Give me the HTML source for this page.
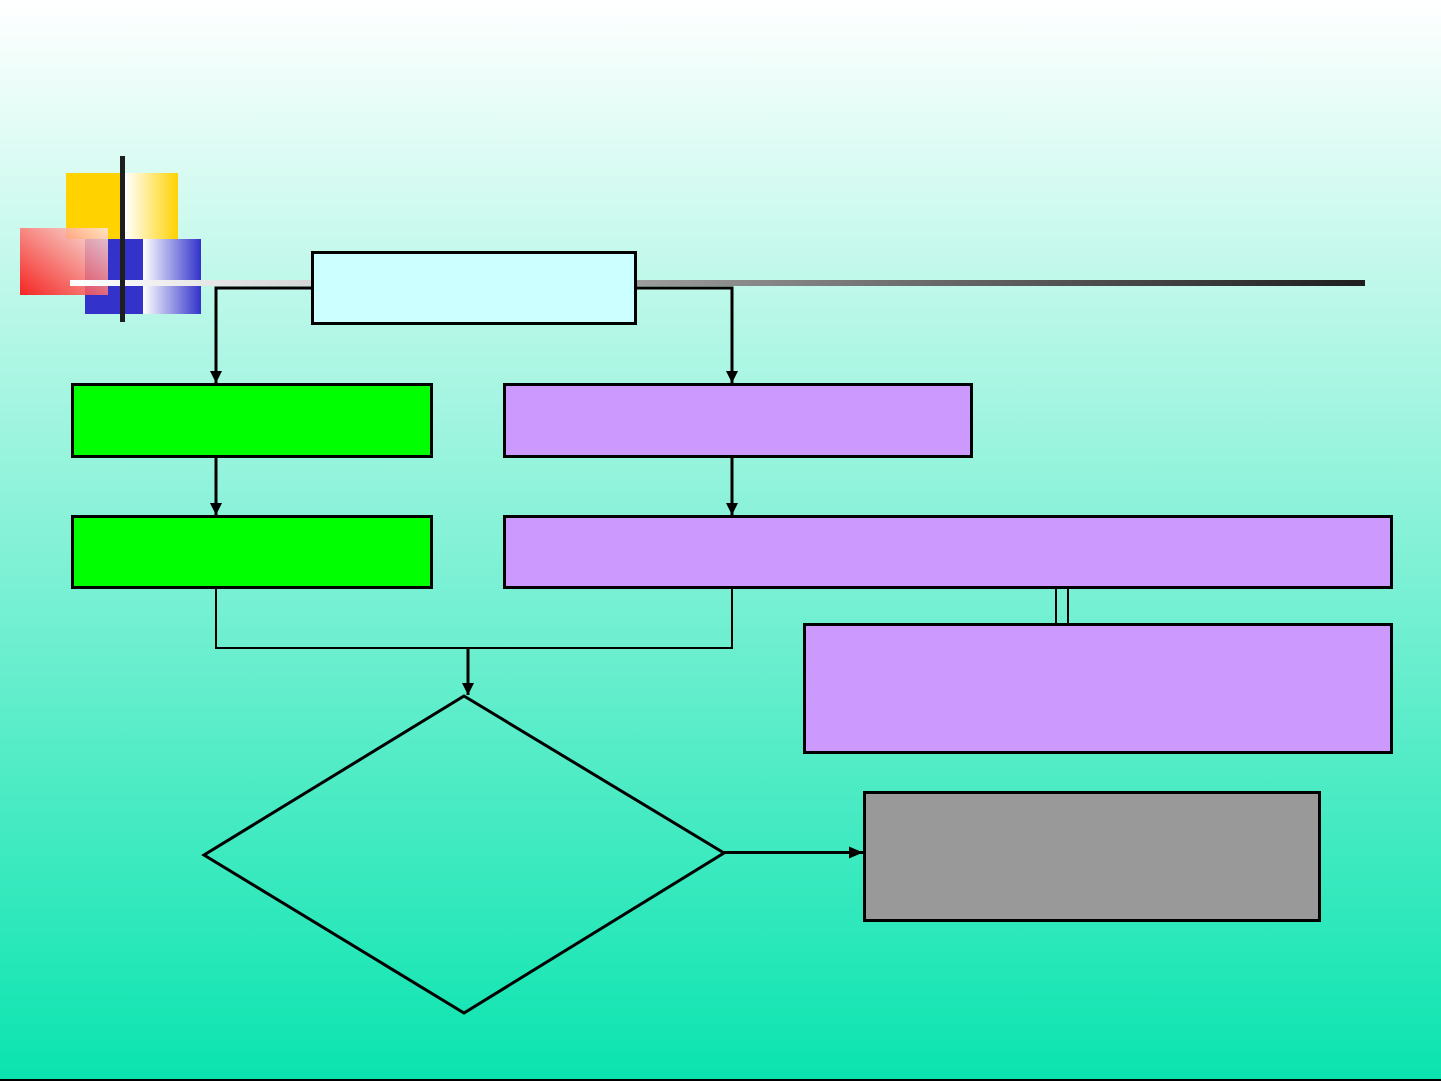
<!DOCTYPE html>
<html>
<head>
<meta charset="utf-8">
<style>
  html,body{margin:0;padding:0;width:1441px;height:1081px;overflow:hidden;}
  svg{display:block;}
</style>
</head>
<body>
<svg width="1441" height="1081" viewBox="0 0 1441 1081" xmlns="http://www.w3.org/2000/svg">
  <defs>
    <linearGradient id="bg" x1="0" y1="0" x2="0" y2="1">
      <stop offset="0" stop-color="#ffffff"/>
      <stop offset="1" stop-color="#0ae4af"/>
    </linearGradient>
    <linearGradient id="bar" x1="70" y1="0" x2="1365" y2="0" gradientUnits="userSpaceOnUse">
      <stop offset="0" stop-color="#ffffff"/>
      <stop offset="1" stop-color="#1e1e1e"/>
    </linearGradient>
    <linearGradient id="yel" x1="0" y1="0" x2="1" y2="0">
      <stop offset="0" stop-color="#ffffff"/>
      <stop offset="1" stop-color="#ffd200"/>
    </linearGradient>
    <linearGradient id="blu" x1="0" y1="0" x2="1" y2="0">
      <stop offset="0" stop-color="#ffffff"/>
      <stop offset="1" stop-color="#3333cc"/>
    </linearGradient>
    <linearGradient id="red" x1="0" y1="1" x2="1" y2="0">
      <stop offset="0" stop-color="#ff0000"/>
      <stop offset="1" stop-color="#ffe8e0"/>
    </linearGradient>
    <marker id="ah" markerWidth="12" markerHeight="12" refX="12" refY="6" orient="auto" markerUnits="userSpaceOnUse" viewBox="0 0 12 12">
      <path d="M0,0 L12,6 L0,12 Z" fill="#000"/>
    </marker>
    <marker id="ah2" markerWidth="14" markerHeight="12" refX="14" refY="6" orient="auto" markerUnits="userSpaceOnUse" viewBox="0 0 14 12">
      <path d="M0,0 L14,6 L0,12 Z" fill="#000"/>
    </marker>
  </defs>

  <rect x="0" y="0" width="1441" height="1081" fill="url(#bg)"/>
  <rect x="0" y="1079" width="1441" height="2" fill="#000"/>

  <!-- decorative squares -->
  <rect x="66" y="173" width="59" height="66" fill="#ffd200"/>
  <rect x="125" y="173" width="53" height="66" fill="url(#yel)"/>
  <rect x="85" y="239" width="58" height="75" fill="#3333cc"/>
  <rect x="143" y="239" width="58" height="75" fill="url(#blu)"/>
  <rect x="20" y="228" width="88" height="67" fill="url(#red)" opacity="0.85"/>
  <!-- horizontal gradient bar -->
  <rect x="70" y="280" width="1295" height="6" fill="url(#bar)"/>
  <!-- vertical black bar -->
  <rect x="120" y="156" width="5" height="166" fill="#1e1e1e"/>

  <!-- connectors from top box -->
  <polyline points="312,288 216,288 216,383" fill="none" stroke="#000" stroke-width="3" marker-end="url(#ah)"/>
  <polyline points="636,288 732,288 732,383" fill="none" stroke="#000" stroke-width="3" marker-end="url(#ah)"/>

  <!-- top box -->
  <rect x="312.5" y="252.5" width="323" height="71" fill="#ccffff" stroke="#000" stroke-width="3"/>

  <!-- green boxes -->
  <rect x="72.5" y="384.5" width="359" height="72" fill="#00ff00" stroke="#000" stroke-width="3"/>
  <rect x="72.5" y="516.5" width="359" height="71" fill="#00ff00" stroke="#000" stroke-width="3"/>

  <!-- purple boxes -->
  <rect x="504.5" y="384.5" width="467" height="72" fill="#cc99ff" stroke="#000" stroke-width="3"/>
  <rect x="504.5" y="516.5" width="887" height="71" fill="#cc99ff" stroke="#000" stroke-width="3"/>
  <rect x="804.5" y="624.5" width="587" height="128" fill="#cc99ff" stroke="#000" stroke-width="3"/>

  <!-- arrows between rows -->
  <line x1="216" y1="458" x2="216" y2="515" stroke="#000" stroke-width="3" marker-end="url(#ah)"/>
  <line x1="732" y1="458" x2="732" y2="515" stroke="#000" stroke-width="3" marker-end="url(#ah)"/>

  <!-- double line -->
  <line x1="1056" y1="589" x2="1056" y2="623" stroke="#000" stroke-width="2"/>
  <line x1="1068" y1="589" x2="1068" y2="623" stroke="#000" stroke-width="2"/>

  <!-- merge connector -->
  <polyline points="216,589 216,648 732,648 732,589" fill="none" stroke="#000" stroke-width="2"/>
  <line x1="468" y1="648" x2="468" y2="695" stroke="#000" stroke-width="3" marker-end="url(#ah)"/>

  <!-- diamond -->
  <polygon points="464,696 724,853 464,1013 204,855" fill="none" stroke="#000" stroke-width="3"/>

  <!-- arrow to gray box -->
  <line x1="724" y1="852.5" x2="863" y2="852.5" stroke="#000" stroke-width="3" marker-end="url(#ah2)"/>

  <!-- gray box -->
  <rect x="864.5" y="792.5" width="455" height="128" fill="#999999" stroke="#000" stroke-width="3"/>
</svg>
</body>
</html>
